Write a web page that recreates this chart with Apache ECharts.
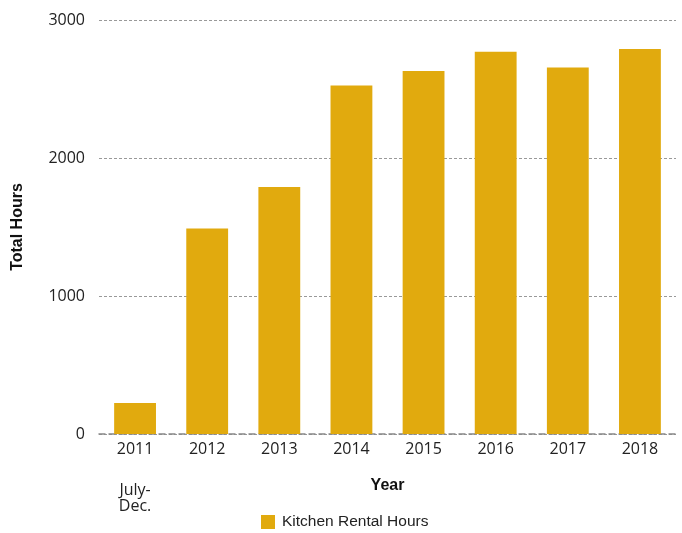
<!DOCTYPE html>
<html><head><meta charset="utf-8">
<script src="https://cdn.jsdelivr.net/npm/echarts@6/dist/echarts.min.js"></script>
<style>html,body{margin:0;padding:0;background:#fff}#c{width:682px;height:533px}</style>
</head><body><div id="c"></div>
<script>
const categories = ['2011', '2012', '2013', '2014', '2015', '2016', '2017', '2018'];
const categoryNotes = ['July-\nDec.', '', '', '', '', '', '', ''];
const kitchenRentalHours = [225, 1490, 1790, 2525, 2630, 2770, 2655, 2790];
const yTicks = [0, 1000, 2000, 3000];

const chart = echarts.init(document.getElementById('c'));
chart.setOption({
  animation: false,
  grid: { left: 99, right: 6, top: 20, bottom: 99, outerBoundsMode: 'none', containLabel: false },
  legend: {
    bottom: 3, left: 261, padding: 0,
    itemWidth: 14, itemHeight: 14, icon: 'rect', itemGap: 10,
    textStyle: { fontFamily: 'Liberation Sans', fontSize: 15.5, color: '#222', padding: [0, 0, 0, 2] },
    data: ['Kitchen Rental Hours']
  },
  xAxis: {
    type: 'category',
    data: categories,
    name: 'Year', nameLocation: 'middle', nameGap: 44, nameMoveOverlap: false,
    nameTextStyle: { fontFamily: 'Liberation Sans', fontWeight: 'bold', fontSize: 16, color: '#111' },
    axisLine: { lineStyle: { color: '#888', type: [6, 4], width: 1.5 } },
    axisTick: { show: false },
    axisLabel: {
      interval: 0, hideOverlap: false,
      margin: 7, color: '#222', fontFamily: 'Open Sans', fontSize: 16, lineHeight: 16,
      formatter: (v, i) => categoryNotes[i]
        ? '{a|' + v + '}\n{gap| }\n' + categoryNotes[i].split('\n').map(s => '{a|' + s + '}').join('\n')
        : '{a|' + v + '}',
      rich: {
        a: { fontFamily: 'Open Sans', fontSize: 16, lineHeight: 16, color: '#222' },
        gap: { fontSize: 10, lineHeight: 25 }
      }
    }
  },
  yAxis: {
    type: 'value', min: yTicks[0], max: yTicks[yTicks.length - 1], interval: 1000,
    name: 'Total Hours', nameLocation: 'middle', nameGap: 73, nameRotate: 90, nameMoveOverlap: false,
    nameTextStyle: { fontFamily: 'Liberation Sans', fontWeight: 'bold', fontSize: 16, color: '#111' },
    axisLine: { show: false }, axisTick: { show: false },
    axisLabel: { margin: 14, color: '#222', fontFamily: 'Open Sans', fontSize: 16, formatter: v => String(v) },
    splitLine: { lineStyle: { color: '#999', type: [3, 2], width: 1 } }
  },
  series: [{
    name: 'Kitchen Rental Hours', type: 'bar', data: kitchenRentalHours,
    barWidth: '58%',
    itemStyle: { color: '#E1AA0E' }
  }]
});
</script></body></html>
